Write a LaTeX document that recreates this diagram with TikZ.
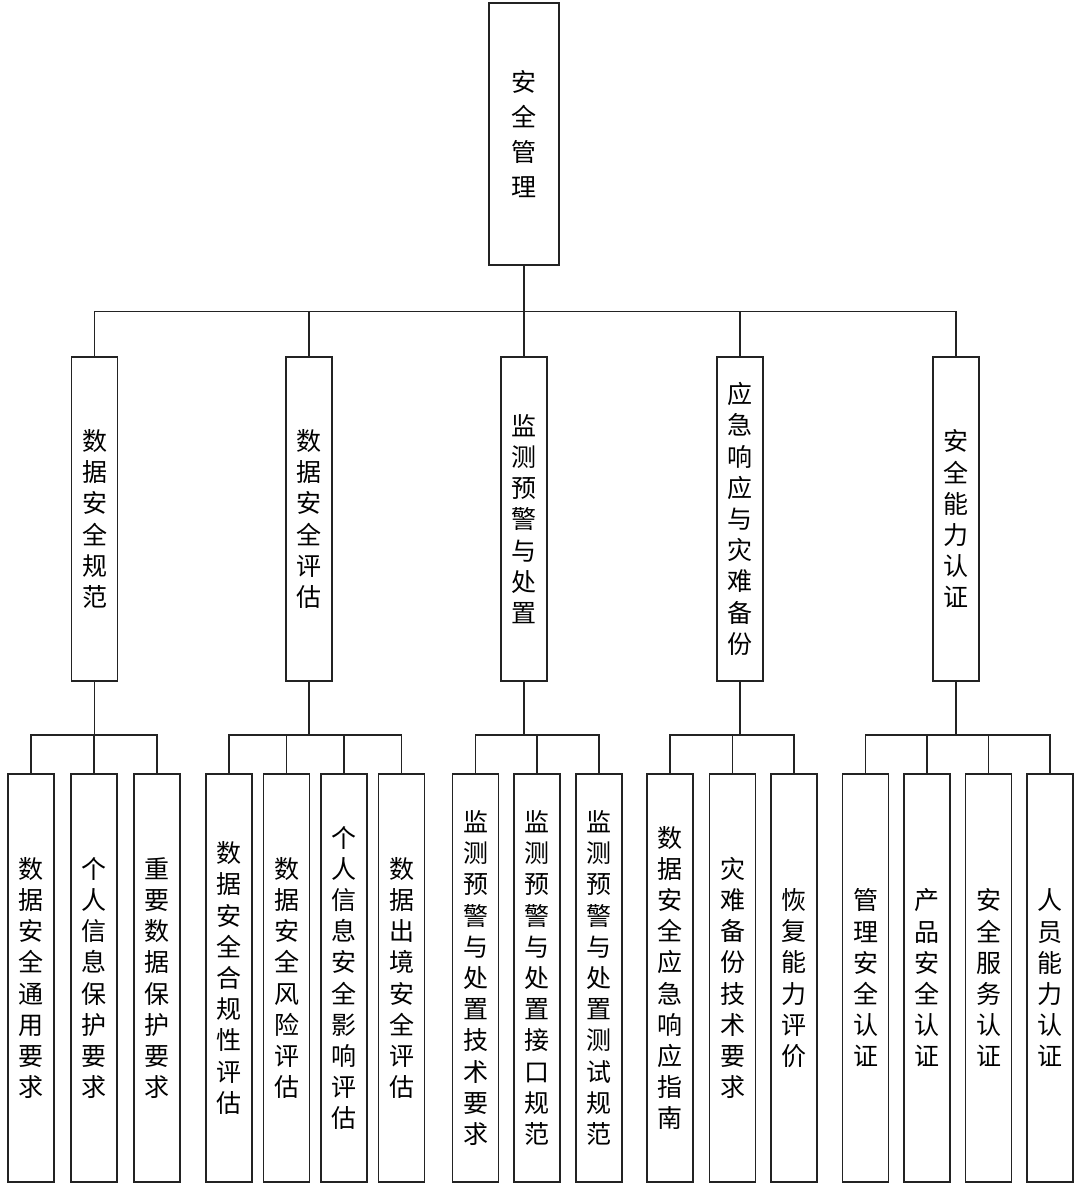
\documentclass[tikz,border=0pt]{standalone}
\usepackage{fontspec}
\usepackage{xcolor}
\usepackage{tikz}
\usetikzlibrary{positioning, calc}
\newfontfamily\cjk{Noto Sans CJK SC}
\definecolor{LineGray}{RGB}{35,35,35}
\tikzset{
    rootnode/.style={
        draw=LineGray, line width=0.95pt, fill=white, align=center, inner sep=0pt,
        minimum width=35pt, minimum height=131pt,
        font=\cjk\fontsize{12.5}{17.5}\selectfont
    },
    groupnode/.style={
        draw=LineGray, line width=0.95pt, fill=white, align=center, inner sep=0pt,
        minimum width=23pt, minimum height=162pt,
        font=\cjk\fontsize{12.5}{15.6}\selectfont
    },
    leafnode/.style={
        draw=LineGray, line width=0.95pt, fill=white, align=center, inner sep=0pt,
        minimum width=23pt, minimum height=204pt,
        font=\cjk\fontsize{12.5}{15.6}\selectfont
    },
    conn/.style={
        draw=LineGray, line width=0.95pt
    }
}

\begin{document}
\begin{tikzpicture}[x=0.5pt, y=-0.5pt]
    \useasboundingbox (0,0) rectangle (1080,1192);

    % --- 1. NODE GỐC VÀ NHÓM ---
    \node[rootnode] (root) at (524,134) {安\\全\\管\\理};

    \node[groupnode] (d1) at (94.5,519) {数\\据\\安\\全\\规\\范};
    \node[groupnode] (d2) at (309,519) {数\\据\\安\\全\\评\\估};
    \node[groupnode] (d3) at (524,519) {监\\测\\预\\警\\与\\处\\置};
    \node[groupnode] (d4) at (740,519) {应\\急\\响\\应\\与\\灾\\难\\备\\份};
    \node[groupnode] (d5) at (956,519) {安\\全\\能\\力\\认\\证};

    % --- 2. NODE LÁ ---
    % Nhóm 1
    \node[leafnode] (a1) at (31,978) {数\\据\\安\\全\\通\\用\\要\\求};
    \node[leafnode] (a2) at (94,978) {个\\人\\信\\息\\保\\护\\要\\求};
    \node[leafnode] (a3) at (157,978) {重\\要\\数\\据\\保\\护\\要\\求};
    % Nhóm 2
    \node[leafnode] (b1) at (229,978) {数\\据\\安\\全\\合\\规\\性\\评\\估};
    \node[leafnode] (b2) at (286.5,978) {数\\据\\安\\全\\风\\险\\评\\估};
    \node[leafnode] (b3) at (344,978) {个\\人\\信\\息\\安\\全\\影\\响\\评\\估};
    \node[leafnode] (b4) at (401.5,978) {数\\据\\出\\境\\安\\全\\评\\估};
    % Nhóm 3
    \node[leafnode] (c1) at (475.5,978) {监\\测\\预\\警\\与\\处\\置\\技\\术\\要\\求};
    \node[leafnode] (c2) at (537,978) {监\\测\\预\\警\\与\\处\\置\\接\\口\\规\\范};
    \node[leafnode] (c3) at (599,978) {监\\测\\预\\警\\与\\处\\置\\测\\试\\规\\范};
    % Nhóm 4
    \node[leafnode] (e1) at (670,978) {数\\据\\安\\全\\应\\急\\响\\应\\指\\南};
    \node[leafnode] (e2) at (732.5,978) {灾\\难\\备\\份\\技\\术\\要\\求};
    \node[leafnode] (e3) at (794,978) {恢\\复\\能\\力\\评\\价};
    % Nhóm 5
    \node[leafnode] (f1) at (865.5,978) {管\\理\\安\\全\\认\\证};
    \node[leafnode] (f2) at (927,978) {产\\品\\安\\全\\认\\证};
    \node[leafnode] (f3) at (988.5,978) {安\\全\\服\\务\\认\\证};
    \node[leafnode] (f4) at (1050,978) {人\\员\\能\\力\\认\\证};

    % --- 3. ĐƯỜNG NỐI ---
    \coordinate (bus1) at (0,311.5);
    \coordinate (bus2) at (0,735);

    \draw[conn] (root.south) -- (root.south |- bus1)
        (d1.north) |- (d5.north |- bus1) -- (d5.north)
        (d2.north) -- (d2.north |- bus1)
        (d3.north) -- (d3.north |- bus1)
        (d4.north) -- (d4.north |- bus1);

    \draw[conn] (d1.south) -- (d1.south |- bus2)
        (a1.north) |- (a3.north |- bus2) -- (a3.north)
        (a2.north) -- (a2.north |- bus2);
    \draw[conn] (d2.south) -- (d2.south |- bus2)
        (b1.north) |- (b4.north |- bus2) -- (b4.north)
        (b2.north) -- (b2.north |- bus2)
        (b3.north) -- (b3.north |- bus2);
    \draw[conn] (d3.south) -- (d3.south |- bus2)
        (c1.north) |- (c3.north |- bus2) -- (c3.north)
        (c2.north) -- (c2.north |- bus2);
    \draw[conn] (d4.south) -- (d4.south |- bus2)
        (e1.north) |- (e3.north |- bus2) -- (e3.north)
        (e2.north) -- (e2.north |- bus2);
    \draw[conn] (d5.south) -- (d5.south |- bus2)
        (f1.north) |- (f4.north |- bus2) -- (f4.north)
        (f2.north) -- (f2.north |- bus2)
        (f3.north) -- (f3.north |- bus2);

\end{tikzpicture}
\end{document}
